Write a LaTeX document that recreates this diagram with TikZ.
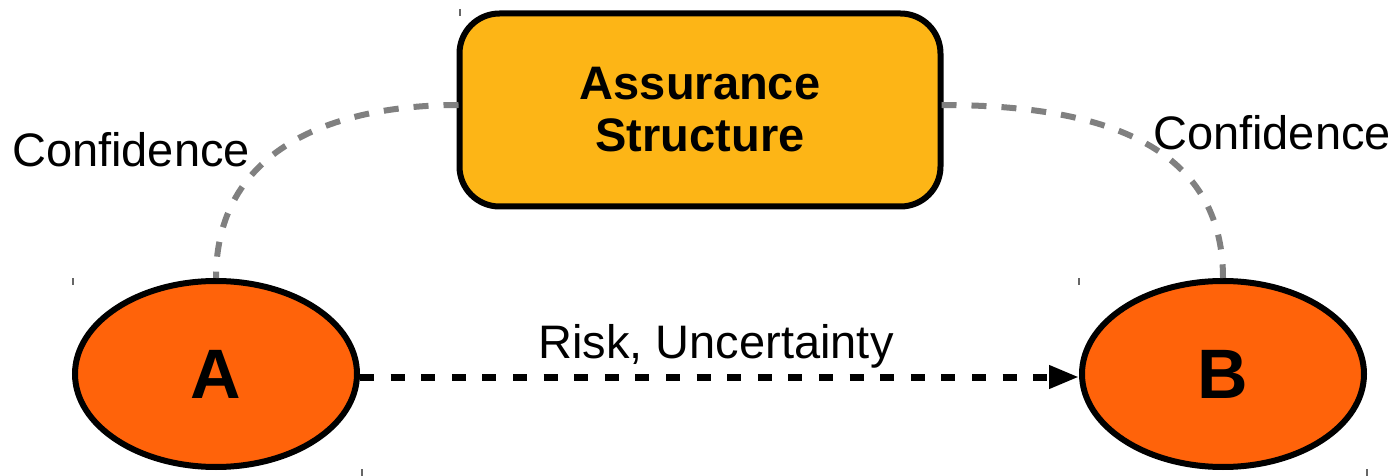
\documentclass[tikz,border=0pt]{standalone}
\usepackage{fontspec}
\setmainfont{Liberation Sans}
\usetikzlibrary{arrows.meta,shapes.geometric}
\definecolor{boxfill}{RGB}{253,181,22}
\definecolor{ellfill}{RGB}{255,99,10}
\definecolor{dashgray}{RGB}{128,128,128}
\tikzset{
  assure/.style={draw=black,line width=3pt,fill=boxfill,rounded corners=20pt,
    minimum width=240.5pt,minimum height=96.5pt,align=center,
    font=\fontsize{23.5pt}{26pt}\selectfont\bfseries},
  endpoint/.style={ellipse,draw=black,line width=3pt,fill=ellfill,
    minimum width=141pt,minimum height=93pt,inner sep=0pt,
    font=\fontsize{35pt}{40pt}\selectfont\bfseries},
  conf/.style={draw=dashgray,line width=3pt,dash pattern=on 7.5pt off 7.5pt},
  risk/.style={draw=black,line width=3.5pt,dash pattern=on 7pt off 8.3pt,
    -{Triangle[length=15pt,width=11pt]}},
  lbl/.style={font=\fontsize{23.5pt}{26pt}\selectfont},
  tick/.style={draw=black!60,line width=0.6pt}
}
\begin{document}
\begin{tikzpicture}[x=0.5pt,y=-0.5pt]
\useasboundingbox (0,0) rectangle (1399,476);
\node[assure] (S) at (700,110) {Assurance\\Structure};
\node[endpoint] (A) at (216,374) {A};
\node[endpoint] (B) at (1223,374) {B};
\coordinate (SL) at (458.5,105);
\coordinate (SR) at (941.5,105);
\draw[conf] (SL) to[out=180,in=90,looseness=1.1] (A.north);
\draw[conf] (SR) to[out=0,in=90,looseness=1.1] (B.north);
\draw[risk] ([yshift=-1.5pt]A.east) -- ([yshift=-1.5pt]B.west);
\node[lbl] (R) at (716,346) {Risk, Uncertainty};
\node[lbl] (CL) at (131,150) {Confidence};
\node[lbl] (CR) at (1272,133) {Confidence};
\coordinate (t1a) at (460,9); \coordinate (t1b) at (460,16);
\coordinate (t2a) at (73,278); \coordinate (t2b) at (73,285);
\coordinate (t3a) at (362,469); \coordinate (t3b) at (362,476);
\coordinate (t4a) at (1079,278); \coordinate (t4b) at (1079,285);
\coordinate (t5a) at (1367,469); \coordinate (t5b) at (1367,476);
\draw[tick] (t1a) -- (t1b);
\draw[tick] (t2a) -- (t2b);
\draw[tick] (t3a) -- (t3b);
\draw[tick] (t4a) -- (t4b);
\draw[tick] (t5a) -- (t5b);
\end{tikzpicture}
\end{document}
